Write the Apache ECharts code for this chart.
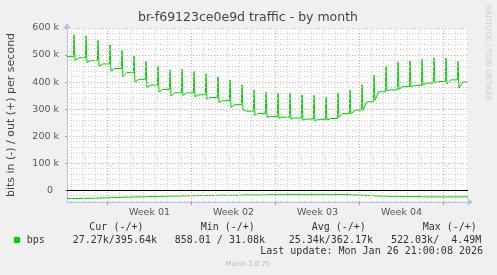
<!DOCTYPE html>
<html>
<head>
<meta charset="utf-8">
<script src="https://cdn.jsdelivr.net/npm/echarts@6/dist/echarts.min.js"></script>
<style>
  html, body { margin: 0; padding: 0; background: #f0f0f0; }
  #chart { width: 497px; height: 275px; }
</style>
</head>
<body>
<div id="chart"></div>
<script>
// x is in days, counted from the first midnight line on the graph
const weekLabels = ['Week 01', 'Week 02', 'Week 03', 'Week 04'];
const weekStarts = [3, 10, 17, 24, 31];
const spikeHour = 5;

// out (+), thousands of bits per second, one entry per day
const outStart = 494;
const outPeak = [575, 571, 554, 538, 517, 497, 476, 460, 445, 447, 441, 431, 420, 408, 389, 371, 363,
                 360, 360, 352, 351, 345, 360, 370, 390, 426, 460, 474, 479, 485, 490, 489, 476];
const outAfter = [480, 473, 459, 440, 420, 400, 380, 363, 348, 351, 346, 337, 325, 306, 298, 277, 270,
                  266, 263, 259, 256, 259, 269, 281, 296, 333, 368, 373, 383, 389, 396, 393, 377];
const outPre = [490, 480, 467, 450, 435, 410, 389, 373, 360, 360, 353, 343, 331, 316, 292, 284, 272,
                270, 267, 263, 262, 265, 284, 296, 327, 364, 371, 383, 387, 396, 402, 408, 400];

// in (-), thousands of bits per second
const inStart = -31;
const inDip = [-38, -36, -34, -32, -31, -29, -28, -27, -26, -25, -24, -24, -23, -22, -22, -21, -20,
               -20, -21, -20, -20, -20, -19, -21, -24, -25, -27, -27, -28, -28, -28, -28, -28];
const inBase = [-31, -30, -29, -27, -26, -25, -24, -23, -22, -21, -20, -20, -19, -19, -18, -18, -17,
                -16, -16, -16, -16, -16, -16, -18, -20, -22, -23, -24, -24, -25, -25, -25, -25];

const yLabels = [0, 100, 200, 300, 400, 500, 600];

const xMin = -0.375, xMax = 33.042;
const green = '#00cc00';

const outData = [[xMin, outStart * 1000]];
const inData = [[xMin, inStart * 1000]];
for (let k = 0; k < outPeak.length; k++) {
  const t = k + spikeHour / 24;
  const prevOut = k === 0 ? outStart : outPre[k - 1];
  outData.push([t - 0.05, prevOut * 1000], [t, outPeak[k] * 1000],
               [t + 0.08, outAfter[k] * 1000], [t + 0.4, outPre[k] * 1000]);
  const prevIn = k === 0 ? inStart : inBase[k - 1];
  inData.push([t - 0.1, prevIn * 1000], [t, inDip[k] * 1000], [t + 0.1, inBase[k] * 1000]);
}
outData.push([xMax, outPre[outPre.length - 1] * 1000]);
inData.push([xMax, inBase[inBase.length - 1] * 1000]);

// grid lines, rrdtool style
const minorStyle = { color: '#cfcfcf', type: [1, 2], width: 1 };
const majorStyle = { color: '#f0a0a0', type: [1, 2], width: 1 };
const gridLines = [];
for (let d = 0; d <= 33; d++) {
  if (!weekStarts.includes(d)) gridLines.push({ xAxis: d, lineStyle: minorStyle });
}
for (let v = -40000; v < 600000; v += 20000) {
  if (v % 100000 !== 0) gridLines.push({ yAxis: v, lineStyle: minorStyle });
}
weekStarts.forEach(d => gridLines.push({ xAxis: d, lineStyle: majorStyle }));
yLabels.forEach(v => {
  if (v !== 0) gridLines.push({ yAxis: v * 1000, lineStyle: majorStyle });
});
gridLines.push({ yAxis: 0, lineStyle: { color: '#000', type: 'solid', width: 1 } });

const chart = echarts.init(document.getElementById('chart'), null, { renderer: 'canvas' });

const mono = 'DejaVu Sans Mono';
const legendText = '#333';
const txt = (x, y, text, extra) => ({
  type: 'text', x, y, silent: true,
  style: Object.assign({ text, fill: legendText, font: '10px "' + mono + '"', verticalAlign: 'middle' }, extra)
});

chart.setOption({
  animation: false,
  backgroundColor: '#f0f0f0',
  textStyle: { fontFamily: 'DejaVu Sans' },
  grid: { left: 67, top: 28, width: 401, height: 174, show: true, backgroundColor: '#ffffff', borderWidth: 0 },
  xAxis: {
    type: 'value', min: xMin, max: xMax,
    axisLine: { onZero: false, lineStyle: { color: '#b8bcec' }, symbol: ['none', 'arrow'], symbolSize: [6, 6], symbolOffset: [0, 5] },
    axisTick: { show: true, customValues: weekStarts, length: 3, lineStyle: { color: '#f08080' } },
    axisLabel: {
      customValues: [6.5, 13.5, 20.5, 27.5],
      formatter: v => weekLabels[Math.round((v - 6.5) / 7)],
      color: '#555', fontSize: 9.5, margin: 6
    },
    splitLine: { show: false }
  },
  yAxis: {
    type: 'value', min: -44000, max: 600000,
    axisLine: { show: true, onZero: false, lineStyle: { color: '#b8bcec' }, symbol: ['none', 'arrow'], symbolSize: [6, 6], symbolOffset: [0, 5] },
    axisTick: { show: true, customValues: yLabels.map(v => v * 1000), length: 2, lineStyle: { color: '#f08080' } },
    axisLabel: {
      customValues: yLabels.map(v => v * 1000),
      formatter: v => (v === 0 ? '0  ' : (v / 1000) + ' k'),
      color: '#555', fontSize: 9.5, margin: 8
    },
    splitLine: { show: false }
  },
  series: [
    {
      name: 'grid', type: 'line', data: [], z: 1, silent: true,
      markLine: { silent: true, symbol: ['none', 'none'], label: { show: false }, animation: false, data: gridLines }
    },
    {
      name: 'out', type: 'line', data: outData, showSymbol: false, z: 3,
      lineStyle: { color: green, width: 1 }, itemStyle: { color: green }
    },
    {
      name: 'in', type: 'line', data: inData, showSymbol: false, z: 3,
      lineStyle: { color: green, width: 1 }, itemStyle: { color: green }
    }
  ],
  graphic: [
    { type: 'text', x: 248, y: 18, silent: true,
      style: { text: 'br-f69123ce0e9d traffic - by month', fill: '#444', font: '12.5px "DejaVu Sans"', align: 'center', verticalAlign: 'middle' } },
    { type: 'text', x: 11, y: 115, rotation: Math.PI / 2, silent: true,
      style: { text: 'bits in (-) / out (+) per second', fill: '#444', font: '11px "DejaVu Sans"', align: 'center', verticalAlign: 'middle' } },
    { type: 'text', x: 487.5, y: 53, rotation: -Math.PI / 2, silent: true,
      style: { text: 'RRDTOOL / TOBI OETIKER', fill: '#cccccc', font: '7.5px "DejaVu Sans"', align: 'center', verticalAlign: 'middle' } },
    txt(89.3, 227.3, 'Cur (-/+)'),
    txt(200.7, 227.3, 'Min (-/+)'),
    txt(311.7, 227.3, 'Avg (-/+)'),
    txt(422.7, 227.3, 'Max (-/+)'),
    { type: 'rect', silent: true, shape: { x: 14, y: 237, width: 6, height: 6 }, style: { fill: green } },
    txt(26.7, 240, 'bps'),
    txt(72.7, 240, '27.27k/395.64k'),
    txt(174.7, 240, '858.01 / 31.08k'),
    txt(288.7, 240, '25.34k/362.17k'),
    txt(391, 240, '522.03k/  4.49M'),
    txt(483, 251.7, 'Last update: Mon Jan 26 21:00:08 2026', { align: 'right' }),
    { type: 'text', x: 247.8, y: 264.3, silent: true,
      style: { text: 'Munin 2.0.75', fill: '#bbbbbb', font: '6.8px "DejaVu Sans"', align: 'center', verticalAlign: 'middle' } }
  ]
});
</script>
</body>
</html>
